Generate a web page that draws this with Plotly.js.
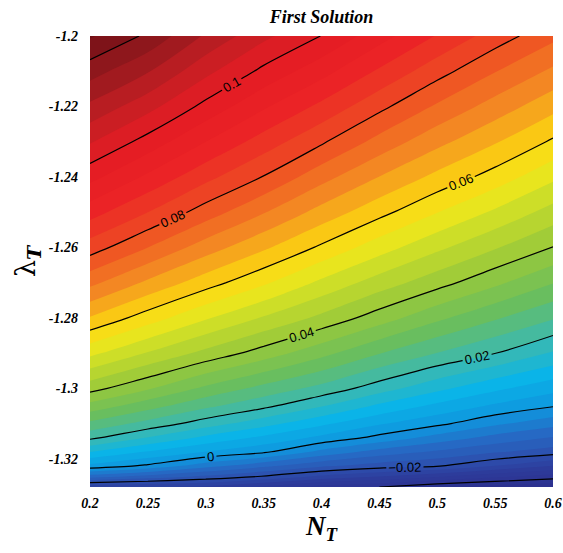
<!DOCTYPE html>
<html>
<head>
<meta charset="utf-8">
<script src="https://cdn.plot.ly/plotly-3.0.1.min.js"></script>
<style>html,body{margin:0;padding:0;background:#fff;}#chart{width:563px;height:553px;}</style>
</head>
<body>
<div id="chart"></div>
<script>
// N_T values (columns)
const nT = [0.2, 0.25, 0.3, 0.35, 0.4, 0.45, 0.5, 0.55, 0.6];
// lambda_T values (rows)
const lambdaT = [-1.328, -1.325, -1.322, -1.318, -1.314, -1.31, -1.305, -1.30, -1.29, -1.28,
                 -1.27, -1.26, -1.25, -1.24, -1.23, -1.22, -1.21, -1.20];
// solution values (one row per lambda_T)
const zValues = [
  [-0.027, -0.028, -0.029, -0.033, -0.038, -0.040, -0.0437, -0.0458, -0.0474],
  [-0.010, -0.0133, -0.0168, -0.0203, -0.0248, -0.028, -0.0314, -0.0349, -0.0377],
  [0.0028, -0.0008, -0.0063, -0.0109, -0.0152, -0.0179, -0.0196, -0.024, -0.0281],
  [0.0122, 0.0077, 0.0039, 0.0008, -0.0051, -0.0096, -0.0126, -0.0155, -0.0179],
  [0.021, 0.0158, 0.011, 0.0071, 0.003, -0.0012, -0.0056, -0.0094, -0.0123],
  [0.027, 0.0226, 0.018, 0.0135, 0.0089, 0.0045, 0.001, -0.0032, -0.0066],
  [0.0345, 0.0296, 0.0249, 0.021, 0.0163, 0.0112, 0.007, 0.0033, 0.0003],
  [0.0415, 0.0365, 0.0311, 0.0267, 0.0227, 0.0179, 0.0131, 0.0089, 0.0054],
  [0.0531, 0.0477, 0.0428, 0.0382, 0.0333, 0.0282, 0.0239, 0.0201, 0.0156],
  [0.0637, 0.058, 0.0525, 0.0476, 0.043, 0.038, 0.0329, 0.0285, 0.0244],
  [0.0731, 0.0672, 0.0618, 0.0567, 0.0511, 0.0461, 0.0416, 0.0369, 0.0322],
  [0.082, 0.076, 0.07, 0.0647, 0.0593, 0.0538, 0.0489, 0.0444, 0.0399],
  [0.0897, 0.084, 0.0781, 0.0723, 0.0665, 0.0613, 0.0561, 0.0513, 0.0464],
  [0.0973, 0.0912, 0.0852, 0.0798, 0.0735, 0.0679, 0.0629, 0.0583, 0.0529],
  [0.1044, 0.0984, 0.092, 0.0862, 0.0806, 0.0746, 0.0692, 0.0644, 0.0594],
  [0.1111, 0.1054, 0.0988, 0.0926, 0.087, 0.0811, 0.0754, 0.0703, 0.0653],
  [0.1178, 0.1123, 0.1051, 0.099, 0.0935, 0.0874, 0.0816, 0.0762, 0.0712],
  [0.1245, 0.1192, 0.1114, 0.105, 0.0999, 0.0936, 0.0877, 0.0821, 0.0771]
];
// tick labels
const xTickVals = [0.2, 0.25, 0.3, 0.35, 0.4, 0.45, 0.5, 0.55, 0.6];
const xTickText = ["0.2", "0.25", "0.3", "0.35", "0.4", "0.45", "0.5", "0.55", "0.6"];
const yTickVals = [-1.2, -1.22, -1.24, -1.26, -1.28, -1.3, -1.32];
const yTickText = ["-1.2", "-1.22", "-1.24", "-1.26", "-1.28", "-1.3", "-1.32"];

const zMin = -0.05, zMax = 0.13;
function t(z) { return (z - zMin) / (zMax - zMin); }
const colorscale = [
  [0, 'rgb(44,46,140)'],
  [t(-0.03), 'rgb(45,60,155)'],
  [t(-0.02), 'rgb(45,78,172)'],
  [t(-0.01), 'rgb(38,105,196)'],
  [t(0.0), 'rgb(15,150,222)'],
  [t(0.01), 'rgb(10,180,232)'],
  [t(0.02), 'rgb(60,185,175)'],
  [t(0.03), 'rgb(105,190,95)'],
  [t(0.04), 'rgb(150,200,60)'],
  [t(0.05), 'rgb(205,222,40)'],
  [t(0.056), 'rgb(245,232,25)'],
  [t(0.062), 'rgb(250,200,20)'],
  [t(0.07), 'rgb(243,135,35)'],
  [t(0.08), 'rgb(238,75,35)'],
  [t(0.09), 'rgb(235,35,38)'],
  [t(0.10), 'rgb(228,28,36)'],
  [t(0.108), 'rgb(195,30,35)'],
  [t(0.116), 'rgb(150,25,30)'],
  [1, 'rgb(95,12,18)']
];

const fillTrace = {
  type: 'contour', x: nT, y: lambdaT, z: zValues,
  colorscale: colorscale, zmin: zMin, zmax: zMax, zauto: false,
  autocontour: false,
  contours: {start: -0.048, end: 0.128, size: 0.004, coloring: 'fill', showlines: false},
  line: {width: 0},
  showscale: false, hoverinfo: 'skip'
};
const lineTrace = {
  type: 'contour', x: nT, y: lambdaT, z: zValues,
  autocontour: false,
  contours: {start: -0.04, end: 0.12, size: 0.02, coloring: 'none', showlabels: true,
             labelfont: {family: 'Liberation Sans, Arial, sans-serif', size: 13, color: '#000'}},
  line: {color: '#000', width: 1.2, smoothing: 1},
  showscale: false, hoverinfo: 'skip'
};

const tickFont = {family: 'Liberation Serif, Times New Roman, serif', size: 14, color: '#000', weight: 'bold', style: 'italic'};

const layout = {
  width: 563, height: 553,
  margin: {l: 90, r: 10, t: 36, b: 66, pad: 0},
  paper_bgcolor: '#fff', plot_bgcolor: '#fff',
  showlegend: false,
  title: {text: 'First Solution', x: 0.5, xref: 'paper', y: 0.969, yref: 'container', yanchor: 'middle',
          font: {family: 'Liberation Serif, Times New Roman, serif', size: 18, color: '#000', weight: 'bold', style: 'italic'}},
  xaxis: {range: [0.2, 0.6], tickvals: xTickVals, ticktext: xTickText, tickfont: tickFont,
          showgrid: false, zeroline: false, showline: false, ticks: '', ticklabelstandoff: 6,
          title: {text: 'N<sub>T</sub>', standoff: 3,
                  font: {family: 'Liberation Serif, Times New Roman, serif', size: 27, color: '#000', weight: 'bold', style: 'italic'}}},
  yaxis: {range: [-1.328, -1.2], tickvals: yTickVals, ticktext: yTickText, tickfont: tickFont,
          showgrid: false, zeroline: false, showline: false, ticks: '', ticklabelstandoff: 11,
          title: {text: 'λ<sub><b><i>T</i></b></sub>', standoff: 5,
                  font: {family: 'DejaVu Serif, serif', size: 27, color: '#000'}}}
};

Plotly.newPlot('chart', [fillTrace, lineTrace], layout, {displayModeBar: false, staticPlot: true});
</script>
</body>
</html>
